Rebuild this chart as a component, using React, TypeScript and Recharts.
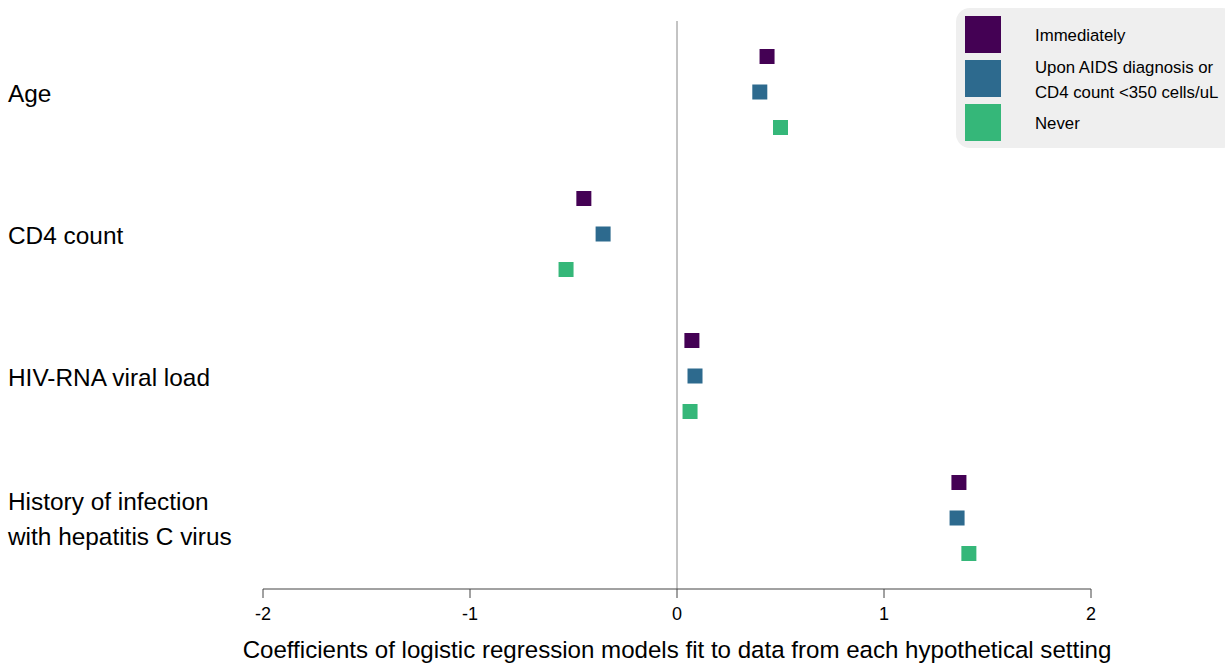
import React from "react"
import { ScatterChart, Scatter, XAxis, YAxis, ReferenceLine } from "recharts"

const categories = ["Age", "CD4 count", "HIV-RNA viral load", "History of infection\nwith hepatitis C virus"]
const seriesNames = ["Immediately", "Upon AIDS diagnosis or\nCD4 count <350 cells/uL", "Never"]
const seriesColors = ["#440154", "#2d6a8e", "#35b779"]
const immediately = [0.435, -0.45, 0.072, 1.362]
const uponAids = [0.4, -0.357, 0.087, 1.353]
const never = [0.5, -0.536, 0.063, 1.41]
const xTicks = [-2, -1, 0, 1, 2]
const seriesValues = [immediately, uponAids, never]

const FONT = "'Liberation Sans', Arial, sans-serif"

// rows: each category uses 3 rows with a gap row between groups
const rowOf = (cat: number, s: number) => 1 + cat * 4 + s
const catTicks = categories.map((_, i) => rowOf(i, 1))

const seriesData = seriesValues.map((vals) =>
  vals.map((v, i) => ({ x: v, y: 0, cat: i }))
)

const Square = (props: any) => {
  const { cx, cy, fill } = props
  if (cx == null || cy == null) return null
  return <rect x={cx - 7.5} y={cy - 7.5} width={15} height={15} fill={fill} />
}

const CategoryTick = (props: any) => {
  const { y, payload } = props
  const idx = catTicks.indexOf(payload.value)
  if (idx < 0) return null
  const lines = categories[idx].split("\n")
  const lh = 35
  const start = y - ((lines.length - 1) * lh) / 2
  return (
    <g>
      {lines.map((l, k) => (
        <text key={k} x={8} y={start + k * lh + 1} dy="0.35em" fontSize={24.4} fill="#000" fontFamily={FONT}>
          {l}
        </text>
      ))}
    </g>
  )
}

const XTick = (props: any) => {
  const { x, y, payload } = props
  return (
    <text x={x} y={y + 14} dy="0.35em" textAnchor="middle" fontSize={18} fill="#000" fontFamily={FONT}>
      {payload.value}
    </text>
  )
}

const XTitle = (props: any) => {
  const { viewBox } = props
  return (
    <text
      x={viewBox.x + viewBox.width / 2}
      y={650}
      dy="0.35em"
      textAnchor="middle"
      fontSize={24.1}
      fill="#000"
      fontFamily={FONT}
    >
      Coefficients of logistic regression models fit to data from each hypothetical setting
    </text>
  )
}

function LegendBox() {
  return (
    <div
      style={{
        position: "absolute",
        left: 956,
        top: 8,
        width: 280,
        height: 140,
        background: "#efefef",
        borderRadius: 14,
        fontFamily: FONT,
        fontSize: 16.8,
        color: "#000",
      }}
    >
      {seriesNames.map((n, i) => (
        <div key={i} style={{ position: "absolute", left: 9, top: 8 + i * 44, height: 37, display: "flex", alignItems: "center" }}>
          <div style={{ width: 36, height: 37, background: seriesColors[i] }} />
          <div style={{ marginLeft: 34, marginTop: 2, lineHeight: "25px", whiteSpace: "pre" }}>{n}</div>
        </div>
      ))}
    </div>
  )
}

export default function App() {
  const data = seriesData.map((arr, s) => arr.map((d) => ({ ...d, y: rowOf(d.cat, s) })))
  return (
    <div style={{ position: "absolute", left: 0, top: 0, width: 1225, height: 665, background: "#fff", overflow: "hidden" }}>
      <ScatterChart width={1225} height={665} margin={{ top: 21, right: 134, bottom: 16, left: 253 }}>
        <XAxis
          type="number"
          dataKey="x"
          domain={[-2, 2]}
          ticks={xTicks}
          interval={0}
          height={60}
          stroke="#444"
          tickSize={9}
          tick={<XTick />}
          label={<XTitle />}
        />
        <YAxis
          type="number"
          dataKey="y"
          domain={[0, 16]}
          reversed
          ticks={catTicks}
          interval={0}
          width={10}
          axisLine={false}
          tickLine={false}
          tick={<CategoryTick />}
        />
        <ReferenceLine x={0} stroke="#888" strokeWidth={1} />
        {data.map((d, s) => (
          <Scatter key={s} data={d} fill={seriesColors[s]} shape={<Square />} isAnimationActive={false} />
        ))}
      </ScatterChart>
      <LegendBox />
    </div>
  )
}
